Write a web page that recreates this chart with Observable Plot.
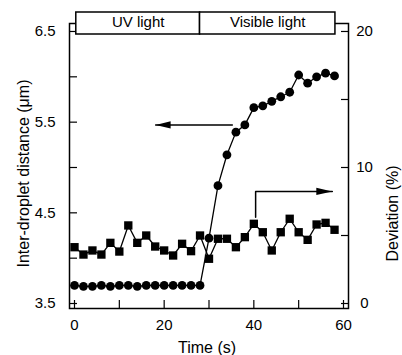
<!DOCTYPE html>
<html><head><meta charset="utf-8">
<script src="https://cdn.jsdelivr.net/npm/d3@7"></script>
<script src="https://cdn.jsdelivr.net/npm/@observablehq/plot@0.6"></script>
<style>body{margin:0;background:#fff} svg{display:block}</style>
</head><body><div id="chart"></div>
<script>
// ---- data ----
const time = [0,2,4,6,8,10,12,14,16,18,20,22,24,26,28,30,32,34,36,38,40,42,44,46,48,50,52,54,56,58];
const distance = [3.70,3.69,3.69,3.70,3.69,3.70,3.70,3.69,3.70,3.70,3.70,3.70,3.70,3.70,3.70,
                  4.22,4.80,5.14,5.39,5.47,5.66,5.68,5.73,5.78,5.83,6.02,5.93,6.00,6.04,6.01];
const deviation = [4.14,3.60,3.90,3.60,4.46,3.82,5.74,4.46,5.00,4.19,3.90,3.53,4.39,3.85,5.00,
                   3.29,4.76,4.76,4.14,4.88,5.86,5.24,3.90,5.24,6.23,5.24,4.68,5.81,5.93,5.42];
const timeTicks = [0,10,20,30,40,50,60];
const timeLabels = [0,20,40,60];
const distanceTicks = [3.5,4,4.5,5,5.5,6,6.5];
const distanceLabels = [3.5,4.5,5.5,6.5];
const deviationTicks = [0,5,10,15,20];
const deviationLabels = [0,10,20];
const phases = ["UV light","Visible light"];
const phaseStart = [0.4,28];
const phaseEnd = [28,58.2];
const arrowLeftTime = [35.2,18.1];
const arrowLeftDistance = [5.47,5.47];
const arrowRightTime = [40.4,40.4,57.5];
const arrowRightDeviation = [6.35,8.24,8.24];

// deviation (right axis, %) mapped onto distance axis units: 0% -> 3.5, 20% -> 6.5
const dev2y = d => 3.5 + d * 3 / 20;
const y2dev = y => Math.round((y - 3.5) * 20 / 3);

const rows = time.map((t,i) => ({t, distance: distance[i], dev: dev2y(deviation[i])}));
const leftArrow = arrowLeftTime.map((t,i) => ({t, y: arrowLeftDistance[i]}));
const rightArrow = arrowRightTime.map((t,i) => ({t, y: dev2y(arrowRightDeviation[i])}));

const headLeft = {draw(ctx){ ctx.moveTo(0,0); ctx.lineTo(15,-3.6); ctx.lineTo(15,3.6); ctx.closePath(); }};
const headRight = {draw(ctx){ ctx.moveTo(0,0); ctx.lineTo(-16,-3.6); ctx.lineTo(-16,3.6); ctx.closePath(); }};

const font = "'Liberation Sans', Arial, Helvetica, sans-serif";
const chart = Plot.plot({
  width: 402, height: 355,
  marginLeft: 69, marginRight: 54, marginTop: 23, marginBottom: 47,
  style: {fontFamily: font, fontSize: "15px", color: "#000", background: "#fff", overflow: "visible"},
  x: {domain: [-1.115, 61.115]},
  y: {domain: [3.445, 6.588]},
  marks: [
    Plot.line(rows, {x: "t", y: "distance", stroke: "#000", strokeWidth: 1.3}),
    Plot.dot(rows, {x: "t", y: "distance", r: 4.4, fill: "#000", stroke: "none"}),
    Plot.line(rows, {x: "t", y: "dev", stroke: "#000", strokeWidth: 1.3}),
    Plot.dot(rows, {x: "t", y: "dev", symbol: "square", r: 4.7, fill: "#000", stroke: "none"}),
    Plot.line(leftArrow, {x: "t", y: "y", stroke: "#000", strokeWidth: 1.5}),
    Plot.dot(leftArrow.slice(1), {x: "t", y: "y", symbol: headLeft, r: 3, fill: "#000", stroke: "none"}),
    Plot.line(rightArrow, {x: "t", y: "y", stroke: "#000", strokeWidth: 1.5}),
    Plot.dot(rightArrow.slice(2), {x: "t", y: "y", symbol: headRight, r: 3, fill: "#000", stroke: "none"}),
    Plot.frame({stroke: "#000", strokeWidth: 1.5}),
    Plot.axisX({ticks: timeTicks, tickSize: -8, tickFormat: () => "", label: null, strokeWidth: 1.2}),
    Plot.axisX({ticks: timeLabels, tickSize: 0, tickPadding: 11, label: null, fontSize: 15}),
    Plot.axisY({ticks: distanceTicks, tickSize: -8, tickFormat: () => "", label: null, strokeWidth: 1.2}),
    Plot.axisY({ticks: distanceLabels, tickSize: 0, tickPadding: 14, tickFormat: d => d.toFixed(1), label: null, fontSize: 15}),
    Plot.axisY({anchor: "right", ticks: deviationTicks.map(dev2y), tickSize: -8, tickFormat: () => "", label: null, strokeWidth: 1.2}),
    Plot.axisY({anchor: "right", ticks: deviationLabels.map(dev2y), tickSize: 0, tickPadding: 16, textAnchor: "middle", tickFormat: y2dev, label: null, fontSize: 15}),
    Plot.rect(phases, {x1: (d,i) => phaseStart[i], x2: (d,i) => phaseEnd[i], insetTop: -11, insetBottom: 274, fill: "#fff", stroke: "#000", strokeWidth: 1.5}),
    Plot.text(phases, {x: (d,i) => (phaseStart[i] + phaseEnd[i]) / 2, text: d => d, frameAnchor: "top", lineAnchor: "middle", dy: -1, fontSize: 15}),
    Plot.text(["Time (s)"], {frameAnchor: "bottom", textAnchor: "middle", lineAnchor: "middle", dx: -2, dy: 39, fontSize: 16}),
    Plot.text(["Inter-droplet distance (\u03bcm)"], {frameAnchor: "left", textAnchor: "middle", lineAnchor: "middle", rotate: -90, dx: -46, dy: 7.5, fontSize: 16}),
    Plot.text(["Deviation (%)"], {frameAnchor: "right", textAnchor: "middle", lineAnchor: "middle", rotate: -90, dx: 44.5, dy: 47.5, fontSize: 16})
  ]
});
document.getElementById("chart").appendChild(chart);
</script>
</body></html>
